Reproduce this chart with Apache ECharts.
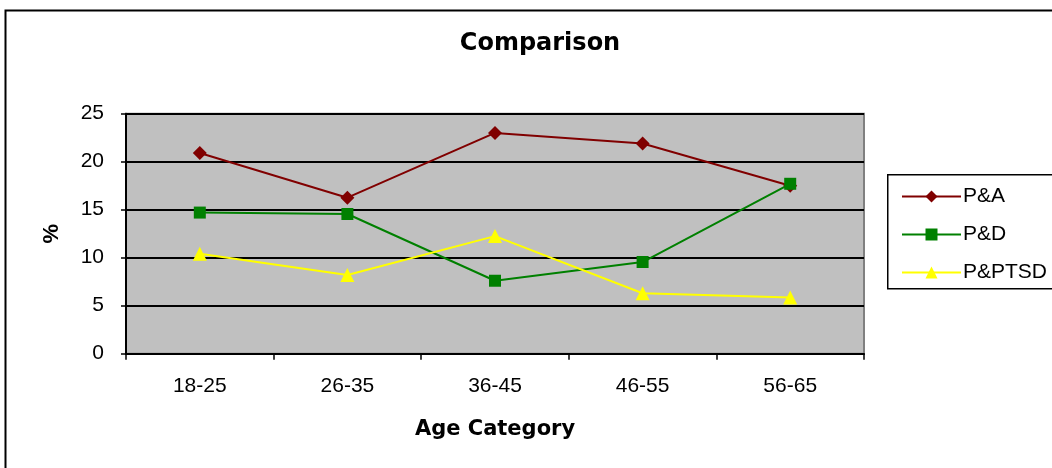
<!DOCTYPE html>
<html><head><meta charset="utf-8">
<script src="https://cdn.jsdelivr.net/npm/echarts@6/dist/echarts.min.js"></script>
<style>html,body{margin:0;padding:0;background:#fff}#c{width:1052px;height:468px}</style>
</head><body><div id="c"></div>
<script>
const categories = ['18-25','26-35','36-45','46-55','56-65'];
const pA = [20.9, 16.25, 23.0, 21.9, 17.5];
const pD = [14.7, 14.55, 7.6, 9.55, 17.7];
const pPTSD = [10.4, 8.2, 12.25, 6.3, 5.85];
const yTicks = [0, 5, 10, 15, 20, 25];

const font = '"Liberation Sans", Arial, sans-serif';
const boldFont = '"DejaVu Sans", "Liberation Sans", sans-serif';
const chart = echarts.init(document.getElementById('c'));
function ser(name, data, color, symbol, size){
  return {name, type:'line', data, symbol, symbolSize:size, showSymbol:true,
    lineStyle:{color, width:2}, itemStyle:{color}, animation:false, z:5};
}
chart.setOption({
  animation:false,
  textStyle:{fontFamily:font},
  title:{text:'Comparison', left:535, top:27, textAlign:'center',
    textStyle:{fontFamily:boldFont, fontSize:24, fontWeight:'bold', color:'#000'}},
  graphic:[
    {type:'rect', left:3, top:8, shape:{width:1100, height:500}, style:{fill:'none', stroke:'#000', lineWidth:2}, z:-10},
    {type:'rect', left:887, top:174, shape:{width:200, height:114}, style:{fill:'#fff', stroke:'#000', lineWidth:1.5}, z:0}
  ],
  legend:{left:896, top:181, orient:'vertical', itemWidth:59, itemHeight:15, itemGap:17,
    data:['P&A','P&D','P&PTSD'], z:10,
    textStyle:{fontFamily:font, fontSize:21, color:'#000', padding:[0,0,0,-3]}},
  grid:{left:126, right:188, top:113.7, bottom:114.3, show:true, backgroundColor:'#c0c0c0', borderColor:'#808080', borderWidth:2},
  xAxis:{type:'category', data:categories, boundaryGap:true,
    name:'Age Category', nameLocation:'middle', nameGap:65,
    nameTextStyle:{fontFamily:boldFont, fontSize:21, fontWeight:'bold', color:'#000'},
    axisLine:{lineStyle:{color:'#000', width:2}},
    axisTick:{show:true, length:6, lineStyle:{color:'#000', width:1.5}},
    axisLabel:{fontFamily:font, fontSize:21, color:'#000', margin:22}},
  yAxis:{type:'value', min:yTicks[0], max:yTicks[yTicks.length-1], interval:5,
    name:'%', nameLocation:'middle', nameRotate:90, nameGap:63,
    nameTextStyle:{fontFamily:font, fontSize:22, fontWeight:'bold', color:'#000'},
    axisLine:{show:true, lineStyle:{color:'#000', width:2}},
    axisTick:{show:true, length:5, lineStyle:{color:'#000', width:1.5}},
    axisLabel:{fontFamily:font, fontSize:21, color:'#000', margin:22},
    splitLine:{show:true, lineStyle:{color:'#000', width:2}}},
  series:[
    ser('P&A', pA, '#800000', 'diamond', 14),
    ser('P&D', pD, '#008000', 'rect', 12),
    ser('P&PTSD', pPTSD, '#ffff00', 'triangle', 14)
  ]
});
</script></body></html>
